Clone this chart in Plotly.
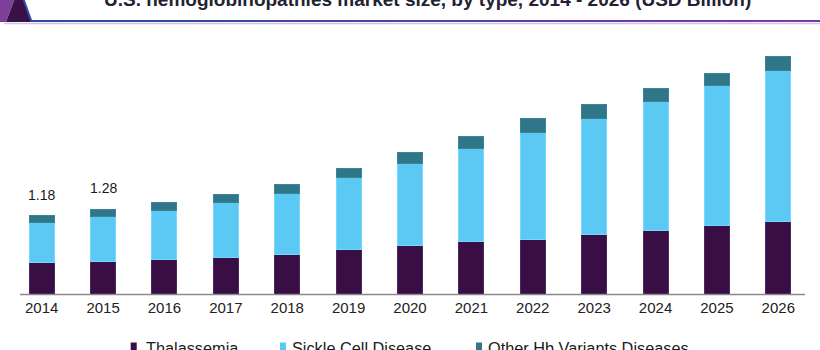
import plotly.graph_objects as go

# ---------------- data ----------------
years = ["2014", "2015", "2016", "2017", "2018", "2019", "2020",
         "2021", "2022", "2023", "2024", "2025", "2026"]
thalassemia = [0.478, 0.487, 0.513, 0.554, 0.593, 0.664, 0.732,
               0.799, 0.825, 0.900, 0.955, 1.036, 1.090]
sickle_cell = [0.597, 0.679, 0.739, 0.830, 0.920, 1.091, 1.240,
               1.398, 1.608, 1.750, 1.946, 2.116, 2.288]
other_hb = [0.105, 0.114, 0.131, 0.121, 0.136, 0.142, 0.166,
            0.175, 0.217, 0.201, 0.202, 0.170, 0.201]
series_names = ["Thalassemia", "Sickle Cell Disease", "Other Hb Variants Diseases"]
series_colors = ["#380e45", "#5bc9f3", "#2f7688"]
series_edges = ["#4a2a58", "#74d8ff", "#3c8597"]
labeled_years = ["2014", "2015"]
labeled_texts = ["1.18", "1.28"]
title_text = "U.S. hemoglobinopathies market size, by type, 2014 - 2026 (USD Billion)"

# ---------------- layout geometry ----------------
W, H = 820, 350
L, R, T, B = 11, 11, 40, 56
PW, PH = W - L - R, H - T - B
Y_MAX = PH / 66.3

def px_x(p):
    return (p - L) / PW

def px_y(p):
    return (H - B - p) / PH

FONT = "Arial, Liberation Sans, sans-serif"

fig = go.Figure()
for vals, name, col, edge in zip([thalassemia, sickle_cell, other_hb],
                                 series_names, series_colors, series_edges):
    fig.add_trace(go.Bar(x=years, y=vals, name=name,
                         marker=dict(color=col, line=dict(color=edge, width=1)),
                         showlegend=False))

totals = [a + b + c for a, b, c in zip(thalassemia, sickle_cell, other_hb)]
annotations = []
for yr, txt in zip(labeled_years, labeled_texts):
    i = years.index(yr)
    annotations.append(dict(x=i, y=totals[i], xref="x", yref="y", text=txt,
                            showarrow=False, yanchor="middle", yshift=21,
                            font=dict(family=FONT, size=14, color="#1a1a1a")))

# title (cut off at top as in reference)
annotations.append(dict(x=px_x(427.5), y=px_y(-0.8), xref="paper", yref="paper",
                        text="<b>" + title_text + "</b>", showarrow=False,
                        xanchor="center", yanchor="middle",
                        font=dict(family=FONT, size=19, color="#222233")))

# legend (manual)
shapes = []
leg_sq = [130.7, 280.0, 476.0]
leg_tx = [144.0, 289.7, 485.7]
for sx, tx, name, col in zip(leg_sq, leg_tx, series_names, series_colors):
    shapes.append(dict(type="rect", xref="paper", yref="paper",
                       x0=px_x(sx), x1=px_x(sx + 6), y0=px_y(342.5), y1=px_y(351),
                       fillcolor=col, line=dict(width=0)))
    annotations.append(dict(x=px_x(tx), y=px_y(347.5), xref="paper", yref="paper",
                            text=name, showarrow=False, xanchor="left",
                            yanchor="middle",
                            font=dict(family=FONT, size=16.3, color="#1a1a1a")))

# x axis baseline
shapes.append(dict(type="line", xref="paper", yref="paper",
                   x0=px_x(20), x1=px_x(805), y0=px_y(294.5), y1=px_y(294.5),
                   line=dict(color="#8a8a8a", width=1.5)))

# header decoration: corner triangle + gradient rule
def path_px(points):
    return "M " + " L ".join(f"{px_x(x)},{px_y(y)}" for x, y in points) + " Z"

shapes.append(dict(type="path", xref="paper", yref="paper",
                   path=path_px([(0, -2), (15, -2), (6, 22), (0, 22)]),
                   fillcolor="#7d3f98", line=dict(width=0)))
shapes.append(dict(type="path", xref="paper", yref="paper",
                   path=path_px([(15, -2), (23, -2), (31, 22), (6, 22)]),
                   fillcolor="#3a1048", line=dict(width=0)))
shapes.append(dict(type="line", xref="paper", yref="paper",
                   x0=px_x(23), y0=px_y(-2), x1=px_x(31.5), y1=px_y(21.5),
                   line=dict(color="#2d4fa3", width=2)))

def lerp_color(c1, c2, t):
    a = [int(c1[i:i + 2], 16) for i in (1, 3, 5)]
    b = [int(c2[i:i + 2], 16) for i in (1, 3, 5)]
    return "#" + "".join(f"{round(x + (y - x) * t):02x}" for x, y in zip(a, b))

n_seg = 24
x_start, x_end = 30.0, 820.0
for k in range(n_seg):
    xa = x_start + (x_end - x_start) * k / n_seg
    xb = x_start + (x_end - x_start) * (k + 1) / n_seg + 0.5
    shapes.append(dict(type="line", xref="paper", yref="paper",
                       x0=px_x(xa), x1=px_x(xb), y0=px_y(21), y1=px_y(21),
                       line=dict(color=lerp_color("#2b4c9e", "#7a3b9c", k / (n_seg - 1)),
                                 width=2)))
shapes.append(dict(type="line", xref="paper", yref="paper",
                   x0=px_x(4), x1=px_x(820), y0=px_y(23.5), y1=px_y(23.5),
                   line=dict(color="#cfc3e6", width=1.5)))

fig.update_layout(
    width=W, height=H,
    margin=dict(l=L, r=R, t=T, b=B, pad=0, autoexpand=False),
    barmode="stack", bargap=0.593,
    plot_bgcolor="white", paper_bgcolor="white",
    xaxis=dict(type="category", range=[-0.5, len(years) - 0.5],
               showgrid=False, showline=False, zeroline=False,
               ticks="", tickfont=dict(family=FONT, size=15, color="#222222"),
               ticklabelstandoff=3),
    yaxis=dict(range=[0, Y_MAX], visible=False, showgrid=False, zeroline=False),
    annotations=annotations, shapes=shapes,
    showlegend=False,
)

fig.write_html("out.html", config={"displayModeBar": False})
